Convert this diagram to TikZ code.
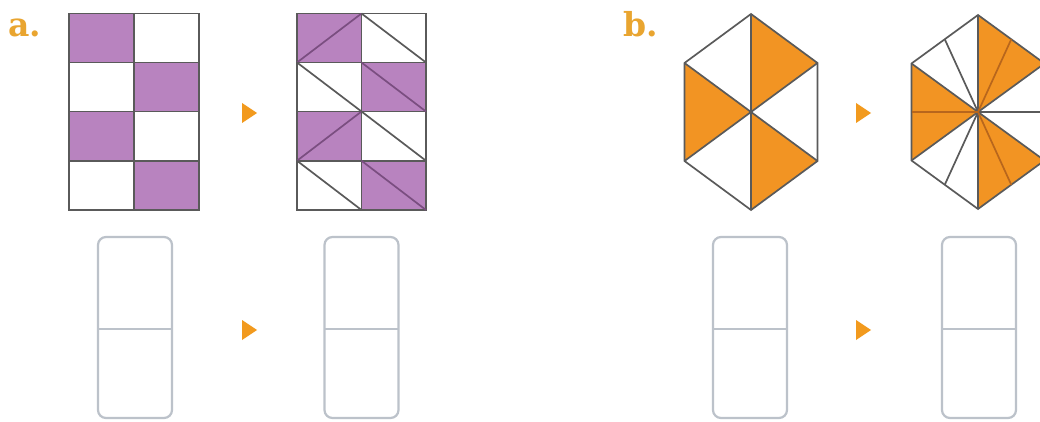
\documentclass[tikz,border=0pt]{standalone}
\usepackage{fontspec}
\usetikzlibrary{calc}
\newfontfamily\labelfont{DejaVu Serif}
\definecolor{lbl}{HTML}{E9A530}
\definecolor{purp}{HTML}{B883BF}
\definecolor{purpline}{HTML}{7A4E80}
\definecolor{gridline}{HTML}{5A5A5A}
\definecolor{orng}{HTML}{F29423}
\definecolor{orngline}{HTML}{B8661C}
\definecolor{boxline}{HTML}{BCC2CA}
\definecolor{arr}{HTML}{F29A1E}
\tikzset{
  lab/.style={font=\labelfont\bfseries\fontsize{33}{33}\selectfont, text=lbl, anchor=base west, inner sep=0pt},
  gl/.style={draw=gridline, line width=1.7pt},
  pl/.style={draw=purpline, line width=1.7pt},
  ol/.style={draw=orngline, line width=1.7pt},
  ansbox/.style={draw=boxline, line width=2.2pt, rounded corners=8pt},
  tri/.style={fill=arr},
}
\begin{document}
\begin{tikzpicture}[x=1pt,y=-1pt]
\useasboundingbox (0,0) rectangle (1040,422);
\clip (0,0) rectangle (1040,422);
\fill[white] (0,0) rectangle (1040,422);

% labels
\node[lab] (la) at (8,37) {a.};
\node[lab] (lb) at (623,37) {b.};

% ---------- panel a, left grid ----------
\fill[purp] (69,13.5) rectangle (134,62.5);
\fill[purp] (134,62.5) rectangle (199,111.5);
\fill[purp] (69,111.5) rectangle (134,160.75);
\fill[purp] (134,160.75) rectangle (199,210);
\draw[gl] (69,13.5) rectangle (199,210);
\draw[gl] (134,13.5) -- (134,210);
\draw[gl] (69,62.5) -- (199,62.5);
\draw[gl] (69,111.5) -- (199,111.5);
\draw[gl] (69,160.75) -- (199,160.75);

% ---------- panel a, right grid ----------
\fill[purp] (297,13.5) rectangle (361.5,62.5);
\fill[purp] (361.5,62.5) rectangle (426,111.5);
\fill[purp] (297,111.5) rectangle (361.5,160.75);
\fill[purp] (361.5,160.75) rectangle (426,210);
\draw[gl] (297,13.5) rectangle (426,210);
\draw[gl] (361.5,13.5) -- (361.5,210);
\draw[gl] (297,62.5) -- (426,62.5);
\draw[gl] (297,111.5) -- (426,111.5);
\draw[gl] (297,160.75) -- (426,160.75);
% diagonals
\draw[pl] (297,62.5) -- (361.5,13.5);
\draw[gl] (361.5,13.5) -- (426,62.5);
\draw[gl] (297,62.5) -- (361.5,111.5);
\draw[pl] (361.5,62.5) -- (426,111.5);
\draw[pl] (297,160.75) -- (361.5,111.5);
\draw[gl] (361.5,111.5) -- (426,160.75);
\draw[gl] (297,160.75) -- (361.5,210);
\draw[pl] (361.5,160.75) -- (426,210);

% ---------- panel b, left hexagon ----------
\begin{scope}[shift={(751,112)}]
  \coordinate (T) at (0,-98);
  \coordinate (UR) at (66.5,-49);
  \coordinate (LR) at (66.5,49);
  \coordinate (B) at (0,98);
  \coordinate (LL) at (-66.5,49);
  \coordinate (UL) at (-66.5,-49);
  \coordinate (C) at (0,0);
  \fill[orng] (C) -- (T) -- (UR) -- cycle;
  \fill[orng] (C) -- (UL) -- (LL) -- cycle;
  \fill[orng] (C) -- (LR) -- (B) -- cycle;
  \draw[gl] (T) -- (UR) -- (LR) -- (B) -- (LL) -- (UL) -- cycle;
  \foreach \v in {T,UR,LR,B,LL,UL} \draw[gl] (C) -- (\v);
\end{scope}

% ---------- panel b, right hexagon ----------
\begin{scope}[shift={(978,112)}]
  \coordinate (T2) at (0,-97);
  \coordinate (UR2) at (66.5,-48.5);
  \coordinate (LR2) at (66.5,48.5);
  \coordinate (B2) at (0,97);
  \coordinate (LL2) at (-66.5,48.5);
  \coordinate (UL2) at (-66.5,-48.5);
  \coordinate (C2) at (0,0);
  \fill[orng] (C2) -- (T2) -- (UR2) -- cycle;
  \fill[orng] (C2) -- (UL2) -- (LL2) -- cycle;
  \fill[orng] (C2) -- (LR2) -- (B2) -- cycle;
  \draw[gl] (T2) -- (UR2) -- (LR2) -- (B2) -- (LL2) -- (UL2) -- cycle;
  \foreach \v in {UR2,LR2,LL2,UL2} \draw[gl] (C2) -- (\v);
  \draw[gl] (C2) -- (T2);
  \draw[gl] (C2) -- (B2);
  % edge midpoints
  \draw[gl] (C2) -- ($(T2)!0.5!(UL2)$);
  \draw[gl] (C2) -- ($(LL2)!0.5!(B2)$);
  \draw[gl] (C2) -- ($(UR2)!0.5!(LR2)$);
  \draw[ol] (C2) -- ($(T2)!0.5!(UR2)$);
  \draw[ol] (C2) -- ($(UL2)!0.5!(LL2)$);
  \draw[ol] (C2) -- ($(LR2)!0.5!(B2)$);
\end{scope}

% ---------- arrows ----------
\fill[tri] (242,103) -- (257,113) -- (242,123) -- cycle;
\fill[tri] (242,320) -- (257,330) -- (242,340) -- cycle;
\fill[tri] (856,103) -- (871,113) -- (856,123) -- cycle;
\fill[tri] (856,320) -- (871,330) -- (856,340) -- cycle;

% ---------- answer boxes ----------
\foreach \x in {98,324.5,713,942}{
  \draw[ansbox] (\x,237) rectangle (\x+74,418);
  \draw[draw=boxline, line width=2.2pt] (\x,329) -- (\x+74,329);
}
\end{tikzpicture}
\end{document}
